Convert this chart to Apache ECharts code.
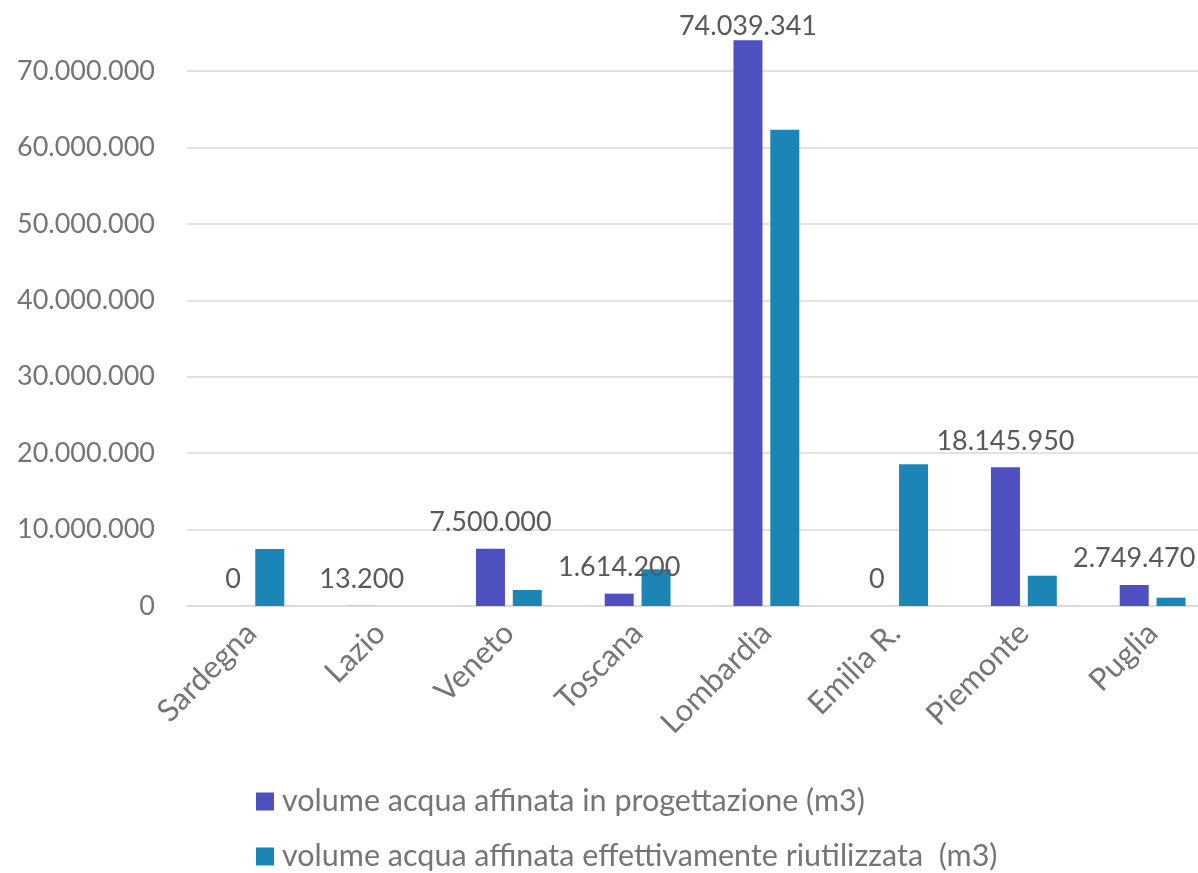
<!DOCTYPE html>
<html>
<head>
<meta charset="utf-8">
<script src="https://cdn.jsdelivr.net/npm/echarts@6/dist/echarts.min.js"></script>
<style>
html,body{margin:0;padding:0;background:#fff;}
#chart{width:1198px;height:873px;}
</style>
</head>
<body>
<div id="chart"></div>
<script>
const categories = ['Sardegna', 'Lazio', 'Veneto', 'Toscana', 'Lombardia', 'Emilia R.', 'Piemonte', 'Puglia'];
const seriesNames = ['volume acqua affinata in progettazione (m3)', 'volume acqua affinata effettivamente riutilizzata  (m3)'];
const progettazione = [0, 13200, 7500000, 1614200, 74039341, 0, 18145950, 2749470];
const riutilizzata = [7460000, 0, 2090000, 4800000, 62300000, 18540000, 3960000, 1090000];
const yMin = 0, yMax = 80000000, yInterval = 10000000;

function fmt(v) {
  return String(Math.round(v)).replace(/\B(?=(\d{3})+(?!\d))/g, '.');
}

const FONT = 'Lato';
const maxVal = Math.max.apply(null, progettazione);
const progData = progettazione.map(v => v === maxVal ? { value: v, label: { distance: 0 } } : v);

const chart = echarts.init(document.getElementById('chart'), null, { renderer: 'canvas' });
chart.setOption({
  animation: false,
  backgroundColor: '#ffffff',
  textStyle: { fontFamily: FONT },
  grid: { left: 187, right: -19, top: -5.4, bottom: 267, containLabel: false, outerBoundsMode: 'none' },
  legend: {
    orient: 'vertical',
    left: 256,
    top: 786,
    height: 120,
    padding: 0,
    itemWidth: 18,
    itemHeight: 18,
    itemGap: 24,
    icon: 'rect',
    textStyle: { fontFamily: FONT, fontSize: 30.5, color: '#757575', padding: [0, 0, 0, 3] },
    data: seriesNames
  },
  xAxis: {
    type: 'category',
    data: categories,
    axisLine: { show: true, lineStyle: { color: '#d9d9d9', width: 1.5 } },
    axisTick: { show: false },
    axisLabel: { rotate: 45, margin: 22, fontFamily: FONT, fontSize: 31, color: '#757575', interval: 0 }
  },
  yAxis: {
    type: 'value',
    min: yMin, max: yMax, interval: yInterval,
    axisLine: { show: false },
    axisTick: { show: false },
    splitLine: { lineStyle: { color: '#d9d9d9', width: 1.5 } },
    axisLabel: { showMaxLabel: false, margin: 32, fontFamily: FONT, fontSize: 27, color: '#757575', formatter: fmt }
  },
  series: [
    {
      name: seriesNames[0],
      type: 'bar',
      data: progData,
      barWidth: 29,
      barGap: '27%',
      itemStyle: { color: '#4E50C0' },
      label: {
        show: true, position: 'top', distance: 13,
        fontFamily: FONT, fontSize: 27, color: '#595959',
        formatter: p => fmt(p.value)
      }
    },
    {
      name: seriesNames[1],
      type: 'bar',
      data: riutilizzata,
      barWidth: 29,
      itemStyle: { color: '#1B86B5' }
    }
  ]
});
</script>
</body>
</html>
